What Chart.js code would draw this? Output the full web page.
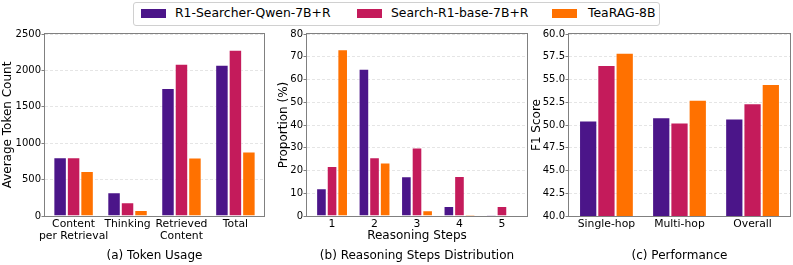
<!DOCTYPE html>
<html><head><meta charset="utf-8">
<script src="https://cdn.jsdelivr.net/npm/chart.js@4.4.1/dist/chart.umd.min.js"></script>
<style>
html,body{margin:0;padding:0;background:#fff;overflow:hidden;width:793px;height:265px;}
#wrap{position:relative;width:793px;height:265px;font-family:"DejaVu Sans";}
canvas{position:absolute;top:28px;}
#legendBox{position:absolute;left:133px;top:2px;width:525px;height:22px;border:1px solid #d0d0d0;border-radius:3px;}
.sw{position:absolute;top:8.5px;width:25px;height:9px;}
.lt{position:absolute;top:7px;height:12.4px;line-height:12.4px;font-size:12.4px;white-space:nowrap;color:#000;}
</style></head><body>
<div id="wrap">
  <div id="legendBox"></div>
  <canvas id="cA" width="270" height="237" style="left:0px"></canvas>
  <canvas id="cB" width="260" height="237" style="left:270px"></canvas>
  <canvas id="cC" width="263" height="237" style="left:530px"></canvas>
</div>
<script>
// ---- data ----
const seriesNames = ['R1-Searcher-Qwen-7B+R', 'Search-R1-base-7B+R', 'TeaRAG-8B'];
const seriesColors = ['#4b1589', '#c41b5b', '#ff7100'];

const tokenCategories = [['Content', 'per Retrieval'], 'Thinking', ['Retrieved', 'Content'], 'Total'];
const tokenR1 = [807, 326, 1757, 2078];
const tokenSearchR1 = [807, 188, 2092, 2284];
const tokenTeaRAG = [619, 83, 803, 885];
const tokenYTicks = [0, 500, 1000, 1500, 2000, 2500];

const stepCategories = ['1', '2', '3', '4', '5'];
const stepR1 = [12.2, 64.7, 17.5, 4.4, 0.4];
const stepSearchR1 = [22.0, 25.8, 30.1, 17.6, 4.4];
const stepTeaRAG = [73.3, 23.5, 2.5, 0.7, 0.15];
const stepYTicks = [0, 10, 20, 30, 40, 50, 60, 70, 80];

const perfCategories = ['Single-hop', 'Multi-hop', 'Overall'];
const perfR1 = [50.5, 50.86, 50.72];
const perfSearchR1 = [56.6, 50.28, 52.4];
const perfTeaRAG = [57.95, 52.77, 54.5];
const perfYTicks = [40, 42.5, 45, 47.5, 50, 52.5, 55, 57.5, 60];

const legendSwatchX = [141, 357, 552];
const legendTextX = [175, 391, 588];

// ---- legend (HTML) ----
const wrap = document.getElementById('wrap');
seriesNames.forEach((n, k) => {
  const s = document.createElement('div');
  s.className = 'sw'; s.style.left = legendSwatchX[k] + 'px'; s.style.background = seriesColors[k];
  wrap.appendChild(s);
  const t = document.createElement('div');
  t.className = 'lt'; t.style.left = legendTextX[k] + 'px'; t.textContent = n;
  wrap.appendChild(t);
});

const FONT = 'DejaVu Sans';
Chart.defaults.font.family = FONT;
Chart.defaults.color = '#000';

const framePlugin = {
  id: 'frame',
  afterDatasetsDraw(chart) {
    const {ctx, chartArea: a} = chart;
    ctx.save();
    ctx.strokeStyle = '#808080';
    ctx.lineWidth = 1;
    const l = Math.round(a.left) - 0.5, t = Math.round(a.top) - 0.5;
    const r = Math.round(a.right) + 0.5, b = Math.round(a.bottom) + 0.5;
    ctx.strokeRect(l, t, r - l, b - t);
    ctx.restore();
  }
};

function makeChart(id, c) {
  return new Chart(document.getElementById(id), {
    type: 'bar',
    data: {
      datasets: c.series.map((vals, k) => ({
        label: seriesNames[k],
        data: vals.map((v, i) => ({x: i, y: v})),
        backgroundColor: seriesColors[k],
        borderColor: 'rgba(255,255,255,0.5)',
        borderWidth: 1,
        categoryPercentage: 0.75,
        barPercentage: 1.0
      }))
    },
    options: {
      responsive: false, animation: false, devicePixelRatio: 1,
      layout: {padding: {top: 6, right: c.padRight, left: 0, bottom: 0}},
      plugins: {
        legend: {display: false},
        tooltip: {enabled: false},
        title: {
          display: true, text: c.caption, position: 'bottom', fullSize: false,
          font: {family: FONT, size: 12, weight: 'normal'}, color: '#000',
          padding: {top: 0, bottom: 2.3}
        }
      },
      scales: {
        x: {
          type: 'linear', min: c.xMin, max: c.xMax, offset: false,
          grid: {display: false, drawTicks: false}, border: {display: false},
          afterBuildTicks: s => { s.ticks = c.cats.map((_, i) => ({value: i})); },
          ticks: {
            autoSkip: false, maxRotation: 0, minRotation: 0, padding: 2,
            font: {size: 10.8, lineHeight: 1.1}, color: '#000',
            callback: v => c.cats[Math.round(v)]
          },
          title: c.xTitle ? {display: true, text: c.xTitle, font: {size: 12}, color: '#000', padding: {top: 0, bottom: 5.1}} : {display: false},
          afterFit: s => { s.height = 32.3; s.paddingLeft = 0; s.paddingRight = 0; }
        },
        y: {
          min: c.yTicks[0], max: c.yTicks[c.yTicks.length - 1],
          afterBuildTicks: s => { s.ticks = c.yTicks.map(v => ({value: v})); },
          grid: {color: 'rgba(0,0,0,0.1)', tickColor: '#808080', tickLength: 3.5, drawTicks: true},
          border: {display: false, dash: [3, 2]},
          ticks: {padding: 0.5, font: {size: 10}, color: '#000', callback: v => c.yFmt(v)},
          title: {display: true, text: c.yTitle, font: {size: 12}, color: '#000', padding: {top: c.yTitlePad, bottom: 0}},
          afterFit: s => { s.width = c.yWidth; s.paddingTop = 0; s.paddingBottom = 0; }
        }
      }
    },
    plugins: [framePlugin]
  });
}

makeChart('cA', {
  cats: tokenCategories, series: [tokenR1, tokenSearchR1, tokenTeaRAG],
  xMin: -0.53, xMax: 3.53, yTicks: tokenYTicks, yFmt: v => String(v),
  yTitle: 'Average Token Count', yTitlePad: 0.8, yWidth: 45, padRight: 6,
  caption: '(a) Token Usage'
});
makeChart('cB', {
  cats: stepCategories, series: [stepR1, stepSearchR1, stepTeaRAG],
  xMin: -0.59, xMax: 4.59, yTicks: stepYTicks, yFmt: v => String(v),
  yTitle: 'Proportion (%)', yTitlePad: 6.3, yWidth: 37, padRight: 3,
  xTitle: 'Reasoning Steps',
  caption: '(b) Reasoning Steps Distribution'
});
makeChart('cC', {
  cats: perfCategories, series: [perfR1, perfSearchR1, perfTeaRAG],
  xMin: -0.5125, xMax: 2.5125, yTicks: perfYTicks, yFmt: v => v.toFixed(1),
  yTitle: 'F1 Score', yTitlePad: 0, yWidth: 39, padRight: 3,
  caption: '(c) Performance'
});
</script>
</body></html>
